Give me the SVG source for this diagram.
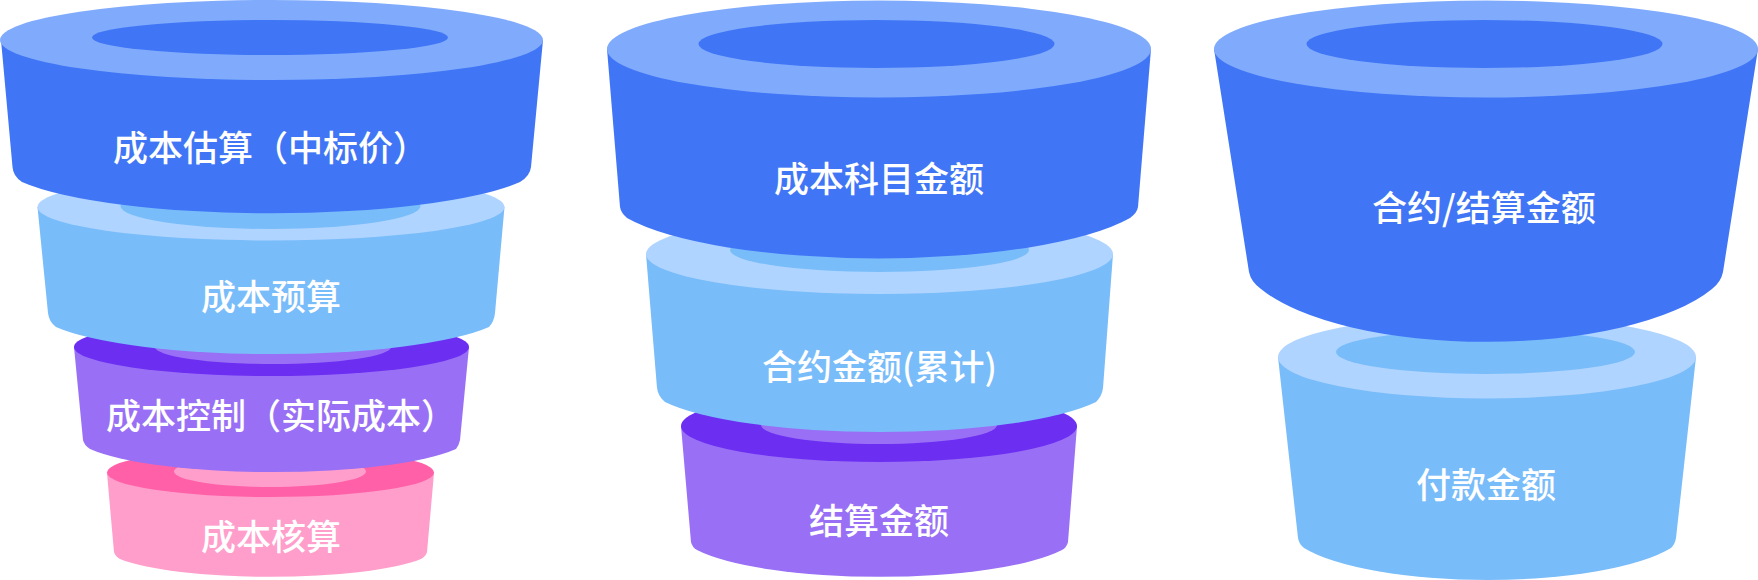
<svg xmlns="http://www.w3.org/2000/svg" width="1758" height="580" viewBox="0 0 1758 580">
<style>
text{font-family:"Noto Sans CJK SC","Noto Sans",sans-serif;font-size:35px;font-weight:500;fill:#fff}
.b1{fill:#4076F6}.t1{fill:#80ABFC}
.b2{fill:#79BCFA}.t2{fill:#AFD4FF}
.b3{fill:#9970F5}.t3{fill:#6C2FF2}
.b4{fill:#FF9DCB}.t4{fill:#FF60A8}
</style>
<rect width="1758" height="580" fill="#fff"/>
<g id="funnel-1-cost-accounting">
<path class="b4" d="M107 473L114 552Q115 556 120 559A164.600 30 0 0 0 421 559Q426 556 427 552L434 473Z"/>
<ellipse class="t4" cx="270.500" cy="472.500" rx="163.500" ry="24.500"/>
<ellipse class="b4" cx="270" cy="471.500" rx="96" ry="15.500"/>
<text x="201" y="550">成本核算</text>
</g>
<g id="funnel-1-cost-control">
<path class="b3" d="M74 347L83 440Q84 445 90 449A199.500 38.400 0 0 0 456 449Q459 445 460 440L469 347Z"/>
<ellipse class="t3" cx="271.500" cy="347" rx="197.500" ry="29"/>
<ellipse class="b3" cx="273" cy="347" rx="118" ry="17"/>
<text x="106" y="429">成本控制（实际成本）</text>
</g>
<g id="funnel-1-cost-budget">
<path class="b2" d="M37.500 207L48 313Q49 322 56 327A236 45 0 0 0 489 327Q494 322 495 313L504.500 207Z"/>
<ellipse class="t2" cx="271" cy="207" rx="233.500" ry="33.500"/>
<ellipse class="b2" cx="270.500" cy="206" rx="150" ry="23"/>
<text x="201" y="310">成本预算</text>
</g>
<g id="funnel-1-cost-estimate">
<path class="b1" d="M1 40L12.500 167Q13 176 22 182A271.500 52 0 0 0 520 182Q530 176 531 167L543 40Z"/>
<ellipse class="t1" cx="271.500" cy="40" rx="271.500" ry="40"/>
<ellipse class="b1" cx="270" cy="37.500" rx="178" ry="17.500"/>
<text x="113" y="161">成本估算（中标价）</text>
</g>
<g id="funnel-2-settlement">
<path class="b3" d="M681 426L691 542Q692 547 697 550A199.500 45 0 0 0 1062 550Q1067 547 1068 542L1077 426Z"/>
<ellipse class="t3" cx="879" cy="426" rx="198" ry="36"/>
<ellipse class="b3" cx="879" cy="425" rx="118" ry="19"/>
<text x="809" y="534">结算金额</text>
</g>
<g id="funnel-2-contract">
<path class="b2" d="M646 254L657 388Q658 396 665 402A235 50 0 0 0 1096 402Q1102 396 1103 388L1113 254Z"/>
<ellipse class="t2" cx="879.500" cy="254" rx="233.500" ry="40"/>
<ellipse class="b2" cx="879.500" cy="250" rx="149.500" ry="22"/>
<text x="762" y="380">合约金额(累计)</text>
</g>
<g id="funnel-2-subject">
<path class="b1" d="M607 49L620 207Q621 213 627 218A274 67 0 0 0 1130 218Q1137 213 1138 207L1151 49Z"/>
<ellipse class="t1" cx="879" cy="49" rx="272" ry="48.500"/>
<ellipse class="b1" cx="876.500" cy="44" rx="178" ry="24"/>
<text x="774" y="192">成本科目金额</text>
</g>
<g id="funnel-3-payment">
<path class="b2" d="M1278 357L1298 538Q1299 544 1304 548A200 53 0 0 0 1671 548Q1675 544 1676 538L1696 357Z"/>
<ellipse class="t2" cx="1487" cy="357" rx="209" ry="41.500"/>
<ellipse class="b2" cx="1485.500" cy="352" rx="149.500" ry="22"/>
<text x="1416" y="498">付款金额</text>
</g>
<g id="funnel-3-contract-settlement">
<path class="b1" d="M1214 49L1249 272Q1251 282 1261 289A246 88 0 0 0 1712 289Q1721 282 1723 272L1758 49Z"/>
<ellipse class="t1" cx="1486" cy="49" rx="272" ry="48.500"/>
<ellipse class="b1" cx="1484.500" cy="44" rx="178" ry="24"/>
<text x="1372" y="221">合约/结算金额</text>
</g>
</svg>
